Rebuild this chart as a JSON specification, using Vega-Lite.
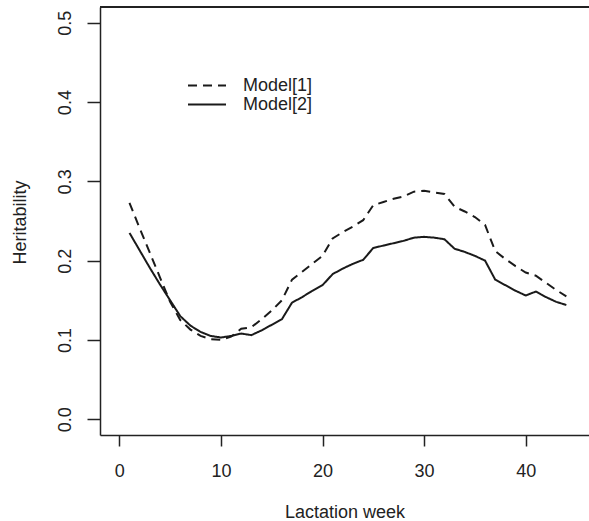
{
  "$schema": "https://vega.github.io/schema/vega-lite/v6.json",
  "width": 489,
  "height": 428,
  "autosize": "none",
  "padding": {"left": 100, "top": 7, "right": 0, "bottom": 86},
  "background": "white",
  "config": {
    "view": {"stroke": null},
    "font": "Liberation Sans",
    "axis": {"grid": false, "domainColor": "#222", "domainWidth": 1.5, "tickColor": "#222", "tickWidth": 1.5,
             "labelFont": "Liberation Sans", "labelFontSize": 18, "labelColor": "#222",
             "titleFont": "Liberation Sans", "titleFontSize": 18, "titleFontWeight": "normal", "titleColor": "#222"}
  },
  "data": {"values": [
    {"week":1,"model":"Model[1]","h":0.273},{"week":2,"model":"Model[1]","h":0.241},{"week":3,"model":"Model[1]","h":0.210},{"week":4,"model":"Model[1]","h":0.179},{"week":5,"model":"Model[1]","h":0.148},
    {"week":6,"model":"Model[1]","h":0.125},{"week":7,"model":"Model[1]","h":0.113},{"week":8,"model":"Model[1]","h":0.105},{"week":9,"model":"Model[1]","h":0.101},{"week":10,"model":"Model[1]","h":0.100},
    {"week":11,"model":"Model[1]","h":0.104},{"week":12,"model":"Model[1]","h":0.114},{"week":13,"model":"Model[1]","h":0.116},{"week":14,"model":"Model[1]","h":0.126},{"week":15,"model":"Model[1]","h":0.137},
    {"week":16,"model":"Model[1]","h":0.150},{"week":17,"model":"Model[1]","h":0.176},{"week":18,"model":"Model[1]","h":0.186},{"week":19,"model":"Model[1]","h":0.196},{"week":20,"model":"Model[1]","h":0.206},
    {"week":21,"model":"Model[1]","h":0.228},{"week":22,"model":"Model[1]","h":0.236},{"week":23,"model":"Model[1]","h":0.243},{"week":24,"model":"Model[1]","h":0.251},{"week":25,"model":"Model[1]","h":0.270},
    {"week":26,"model":"Model[1]","h":0.274},{"week":27,"model":"Model[1]","h":0.278},{"week":28,"model":"Model[1]","h":0.281},{"week":29,"model":"Model[1]","h":0.287},{"week":30,"model":"Model[1]","h":0.288},
    {"week":31,"model":"Model[1]","h":0.286},{"week":32,"model":"Model[1]","h":0.284},{"week":33,"model":"Model[1]","h":0.268},{"week":34,"model":"Model[1]","h":0.262},{"week":35,"model":"Model[1]","h":0.255},
    {"week":36,"model":"Model[1]","h":0.245},{"week":37,"model":"Model[1]","h":0.212},{"week":38,"model":"Model[1]","h":0.202},{"week":39,"model":"Model[1]","h":0.193},{"week":40,"model":"Model[1]","h":0.185},
    {"week":41,"model":"Model[1]","h":0.181},{"week":42,"model":"Model[1]","h":0.172},{"week":43,"model":"Model[1]","h":0.163},{"week":44,"model":"Model[1]","h":0.155},
    {"week":1,"model":"Model[2]","h":0.235},{"week":2,"model":"Model[2]","h":0.213},{"week":3,"model":"Model[2]","h":0.191},{"week":4,"model":"Model[2]","h":0.170},{"week":5,"model":"Model[2]","h":0.150},
    {"week":6,"model":"Model[2]","h":0.130},{"week":7,"model":"Model[2]","h":0.118},{"week":8,"model":"Model[2]","h":0.110},{"week":9,"model":"Model[2]","h":0.105},{"week":10,"model":"Model[2]","h":0.103},
    {"week":11,"model":"Model[2]","h":0.105},{"week":12,"model":"Model[2]","h":0.108},{"week":13,"model":"Model[2]","h":0.106},{"week":14,"model":"Model[2]","h":0.112},{"week":15,"model":"Model[2]","h":0.119},
    {"week":16,"model":"Model[2]","h":0.126},{"week":17,"model":"Model[2]","h":0.147},{"week":18,"model":"Model[2]","h":0.154},{"week":19,"model":"Model[2]","h":0.162},{"week":20,"model":"Model[2]","h":0.169},
    {"week":21,"model":"Model[2]","h":0.183},{"week":22,"model":"Model[2]","h":0.190},{"week":23,"model":"Model[2]","h":0.196},{"week":24,"model":"Model[2]","h":0.201},{"week":25,"model":"Model[2]","h":0.216},
    {"week":26,"model":"Model[2]","h":0.219},{"week":27,"model":"Model[2]","h":0.222},{"week":28,"model":"Model[2]","h":0.225},{"week":29,"model":"Model[2]","h":0.229},{"week":30,"model":"Model[2]","h":0.230},
    {"week":31,"model":"Model[2]","h":0.229},{"week":32,"model":"Model[2]","h":0.227},{"week":33,"model":"Model[2]","h":0.215},{"week":34,"model":"Model[2]","h":0.211},{"week":35,"model":"Model[2]","h":0.206},
    {"week":36,"model":"Model[2]","h":0.200},{"week":37,"model":"Model[2]","h":0.176},{"week":38,"model":"Model[2]","h":0.169},{"week":39,"model":"Model[2]","h":0.162},{"week":40,"model":"Model[2]","h":0.156},
    {"week":41,"model":"Model[2]","h":0.161},{"week":42,"model":"Model[2]","h":0.154},{"week":43,"model":"Model[2]","h":0.148},{"week":44,"model":"Model[2]","h":0.144}
  ]},
  "layer": [
    {
      "mark": {"type": "line", "color": "#1a1a1a", "strokeWidth": 2},
      "encoding": {
        "x": {"field": "week", "type": "quantitative",
              "scale": {"domain": [-1.9, 46.23], "nice": false, "zero": false},
              "axis": {"values": [0, 10, 20, 30, 40], "tickSize": 11, "labelPadding": 16, "labelFlush": false,
                       "title": "Lactation week", "titleBaseline": "alphabetic", "titleY": 82}},
        "y": {"field": "h", "type": "quantitative",
              "scale": {"domain": [-0.02, 0.52], "nice": false, "zero": false},
              "axis": {"values": [0, 0.1, 0.2, 0.3, 0.4, 0.5], "format": ".1f", "tickSize": 13, "labelPadding": 13,
                       "labelAngle": -90, "labelAlign": "center", "labelBaseline": "bottom", "labelFlush": false,
                       "title": "Heritability", "titleAngle": -90, "titleBaseline": "alphabetic", "titleX": -75, "titleY": 215}},
        "strokeDash": {"field": "model", "type": "nominal",
                       "scale": {"domain": ["Model[1]", "Model[2]"], "range": [[9, 6], [1, 0]]},
                       "legend": {"orient": "none", "legendX": 87, "legendY": 70, "title": null,
                                  "symbolType": "stroke", "symbolSize": 1444, "symbolStrokeWidth": 2,
                                  "symbolStrokeColor": "#1a1a1a", "labelFont": "Liberation Sans", "labelFontSize": 18,
                                  "labelColor": "#222", "labelOffset": 16, "clipHeight": 17, "rowPadding": 0, "padding": 0}}
      }
    },
    {
      "mark": {"type": "rule", "color": "#222", "strokeWidth": 1.5},
      "encoding": {"y": {"datum": 0.52}}
    }
  ]
}
